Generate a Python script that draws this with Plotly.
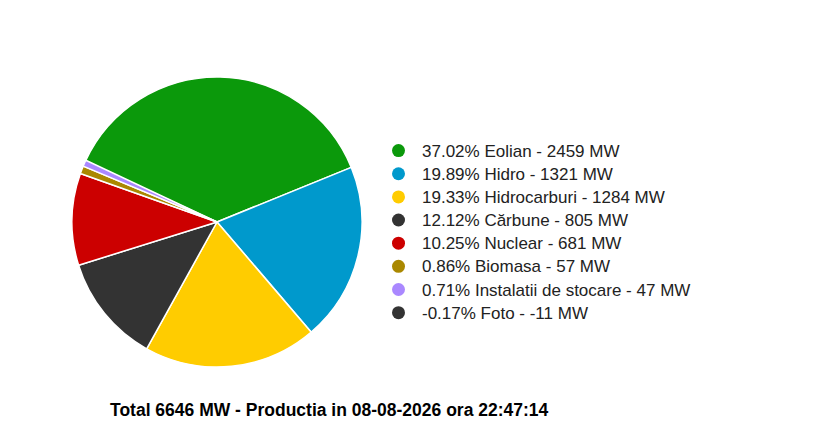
import plotly.graph_objects as go

# Productie pe surse
surse = ['Eolian', 'Hidro', 'Hidrocarburi', 'Cărbune', 'Nuclear', 'Biomasa',
         'Instalatii de stocare', 'Foto']
putere_mw = [2459, 1321, 1284, 805, 681, 57, 47, -11]
culori = ['#0b990b', '#0099cc', '#ffcc00', '#333333', '#cc0000', '#aa8800',
          '#aa88ff', '#333333']
total_mw = 6646
data_ora = '08-08-2026 ora 22:47:14'

suma = sum(putere_mw)
etichete = [f'{v / suma * 100:.2f}% {s} - {v} MW' for s, v in zip(surse, putere_mw)]

fig = go.Figure()

# the pie itself (plotly skips the negative value, like the original)
fig.add_trace(go.Pie(
    labels=surse,
    values=putere_mw,
    marker=dict(colors=culori, line=dict(color='white', width=1.5)),
    sort=False,
    direction='clockwise',
    rotation=-65.4,
    textinfo='none',
    hoverinfo='label+value+percent',
    showlegend=False,
    domain=dict(x=[64 / 820, 354 / 820], y=[1 - 359 / 433, 1 - 69 / 433]),
))

# round legend markers, one dummy trace per source
for et, c in zip(etichete, culori):
    fig.add_trace(go.Scatter(
        x=[None], y=[None], mode='markers', name=f'<span style="font-size:17px">{et}</span>',
        marker=dict(symbol='circle', size=13, color=c),
        hoverinfo='skip',
    ))

fig.add_annotation(
    text=f'<b>Total {total_mw} MW - Productia in {data_ora}</b>',
    xref='paper', yref='paper', x=100 / 820, y=1 - 402 / 433,
    xanchor='left', yanchor='middle', showarrow=False,
    font=dict(family='Arial, Liberation Sans', size=17.5, color='#000000'),
)

fig.update_layout(
    width=820, height=433,
    margin=dict(l=0, r=0, t=0, b=0),
    paper_bgcolor='white', plot_bgcolor='white',
    font=dict(family='Arial, Liberation Sans', color='#222222'),
    xaxis=dict(visible=False), yaxis=dict(visible=False),
    legend=dict(
        x=367 / 820, y=1 - 126 / 433, xanchor='left', yanchor='top',
        font=dict(size=15.5, color='#222222'),
        bgcolor='rgba(0,0,0,0)', itemclick=False, itemwidth=37,
    ),
)

fig.write_html('out.html')
